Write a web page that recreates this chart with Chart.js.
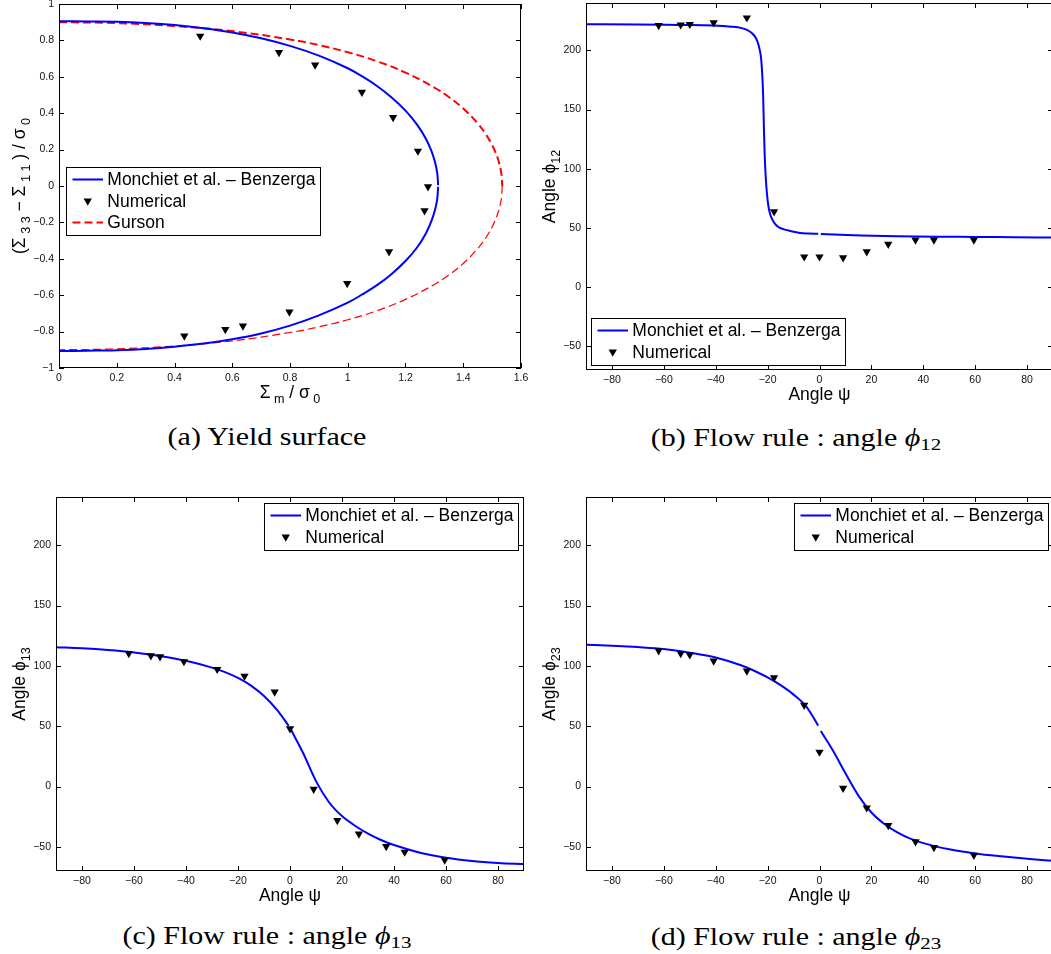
<!DOCTYPE html>
<html>
<head>
<meta charset="utf-8">
<title>Yield surface and flow rule</title>
<script src="https://cdn.jsdelivr.net/npm/chart.js@4.4.1/dist/chart.umd.min.js"></script>
<style>
  html, body { margin: 0; padding: 0; background: #fff; }
  body { position: relative; width: 1051px; height: 954px; overflow: hidden; }
  canvas { position: absolute; }
  .caption {
    position: absolute; white-space: nowrap; color: #000;
    font-family: 'Liberation Serif', 'DejaVu Serif', serif; font-size: 25px;
    transform: translate(-50%, -50%) scaleX(1.2);
  }
  .caption i { font-family: 'Liberation Serif', 'DejaVu Serif', serif; }
  .caption sub { font-size: 70%; vertical-align: -0.2em; line-height: 0; }
</style>
</head>
<body>
<canvas id="chart-a"></canvas>
<canvas id="chart-b"></canvas>
<canvas id="chart-c"></canvas>
<canvas id="chart-d"></canvas>
<div class="caption" style="left:267px;top:437px">(a) Yield surface</div>
<div class="caption" style="left:796px;top:438px">(b) Flow rule : angle <i>ϕ</i><sub>12</sub></div>
<div class="caption" style="left:267px;top:936px">(c) Flow rule : angle <i>ϕ</i><sub>13</sub></div>
<div class="caption" style="left:796px;top:937px">(d) Flow rule : angle <i>ϕ</i><sub>23</sub></div>
<script>
const FONT = "'Liberation Sans', Arial, 'DejaVu Sans', sans-serif";

// tick values
const yieldXTicks = [0, 0.2, 0.4, 0.6, 0.8, 1, 1.2, 1.4, 1.6];
const yieldYTicks = [-1, -0.8, -0.6, -0.4, -0.2, 0, 0.2, 0.4, 0.6, 0.8, 1];
const psiTicks = [-80, -60, -40, -20, 0, 20, 40, 60, 80];
const phiTicks = [-50, 0, 50, 100, 150, 200];

// (a) yield surface : Sigma_m / sigma_0 vs (Sigma_33 - Sigma_11) / sigma_0
const yieldNumX = [0.489, 0.762, 0.887, 1.049, 1.157, 1.243, 1.278, 1.266, 1.143, 0.998, 0.798, 0.637, 0.576, 0.434];
const yieldNumY = [0.824, 0.734, 0.665, 0.515, 0.377, 0.192, -0.004, -0.136, -0.361, -0.535, -0.692, -0.769, -0.788, -0.824];

const modelUpperX = [0, 0.1, 0.2, 0.3, 0.4, 0.5, 0.6, 0.7, 0.8, 0.9, 1.0, 1.05, 1.1, 1.15, 1.2, 1.24, 1.27, 1.29, 1.303, 1.31, 1.313];
const modelUpperY = [0.905, 0.904, 0.902, 0.895, 0.884, 0.867, 0.844, 0.812, 0.770, 0.716, 0.647, 0.602, 0.551, 0.489, 0.414, 0.337, 0.261, 0.192, 0.127, 0.070, 0.004];
const modelLowerX = [1.313, 1.31, 1.303, 1.29, 1.27, 1.24, 1.2, 1.15, 1.1, 1.05, 1.0, 0.9, 0.8, 0.7, 0.6, 0.5, 0.4, 0.3, 0.2, 0.1, 0];
const modelLowerY = [-0.004, -0.070, -0.127, -0.192, -0.262, -0.338, -0.412, -0.486, -0.546, -0.596, -0.641, -0.711, -0.767, -0.810, -0.842, -0.866, -0.883, -0.895, -0.902, -0.905, -0.907];

const gursonUpperX = [0, 0.2, 0.4, 0.6, 0.8, 0.9, 1.0, 1.1, 1.2, 1.3, 1.35, 1.4, 1.45, 1.48, 1.5, 1.51, 1.52, 1.525, 1.53, 1.533, 1.535];
const gursonUpperY = [0.9, 0.895, 0.879, 0.851, 0.805, 0.774, 0.735, 0.686, 0.623, 0.541, 0.489, 0.426, 0.344, 0.28, 0.225, 0.191, 0.15, 0.122, 0.087, 0.055, 0];
const gursonLowerX = [1.535, 1.533, 1.53, 1.525, 1.52, 1.51, 1.5, 1.48, 1.45, 1.4, 1.35, 1.3, 1.2, 1.1, 1.0, 0.9, 0.8, 0.6, 0.4, 0.2, 0];
const gursonLowerY = [0, -0.055, -0.087, -0.122, -0.15, -0.191, -0.225, -0.28, -0.344, -0.426, -0.489, -0.541, -0.623, -0.686, -0.735, -0.774, -0.805, -0.851, -0.879, -0.895, -0.9];

// (b)-(d) flow rule : angle psi
const psiNumerical = [-62, -53.5, -50, -40.8, -28, -17.5, -5.9, 0, 9.1, 18.2, 26.5, 37, 44.1, 59.5];
const phi12Numerical = [221, 221.6, 222, 223.3, 227.5, 63.8, 25.6, 25.6, 24.8, 30, 36.2, 39.9, 39.9, 39.9];
const phi13Numerical = [110.4, 108.4, 107.6, 103.6, 97.2, 91.6, 78.4, 47.9, -2.2, -28, -39.2, -49.6, -54.3, -60.8];
const phi23Numerical = [112.6, 110.4, 109.2, 104.2, 95.8, 90.2, 67.5, 28.6, -1.4, -17.6, -32.2, -45.7, -50.4, -56.9];

const phi12ModelPsi = [-90, -70, -54, -41, -34, -30, -28, -26.5, -25, -24, -23, -22.5, -22, -21.7, -21.4, -21.1, -20.7, -20.3, -19.8, -19.2, -18.5, -17.5, -16, -14, -11, -7.5, -4, -0.5, 0, 0.5, 8, 16, 30, 45, 60, 75, 90];
const phi12Model = [222, 221.9, 221.4, 221, 220, 218.8, 217.3, 215.3, 212, 208, 200, 193, 177, 160, 132, 110, 92, 80, 70, 63, 58.5, 54.5, 51, 49, 47.3, 45.8, 45.3, 45, null, 44.9, 44.2, 43.6, 43, 42.6, 42.4, 42.1, 41.9];

const phi13ModelPsi = [-90, -80, -70, -60, -50, -40, -30, -25, -20, -15, -10, -5, -0.5, 0, 0.5, 5, 10, 15, 20, 25, 30, 35, 40, 50, 60, 70, 80, 90];
const phi13Model = [115.5, 114.6, 113.2, 111.2, 108.3, 104.3, 98.6, 94.8, 90, 83.6, 75, 63.5, 50.3, null, 46.6, 28, 4.5, -13, -24.5, -32.5, -39, -44.3, -48.5, -54.8, -59, -61.7, -63.3, -64.3];

const phi23ModelPsi = [-90, -80, -70, -60, -50, -40, -30, -25, -20, -15, -10, -5, -0.5, 0, 0.5, 5, 10, 15, 20, 25, 30, 35, 40, 50, 60, 70, 80, 90];
const phi23Model = [117.6, 116.8, 115.6, 114, 111, 107, 100.3, 95.8, 90.4, 84, 76.2, 66, 50.5, null, 46, 30.5, 11, -7.5, -21.5, -31, -38, -43.2, -46.9, -52, -55.4, -57.8, -59.8, -61.6];

const pairs = (xs, ys) => xs.map((x, i) => ({ x, y: ys[i] }));
const fmt = v => String(Math.round(v * 10) / 10).replace('-', '\u2212');

const BLUE = '#0000ff';
const RED = '#ff0000';

function modelSet(data, extra) {
  return Object.assign({
    label: 'Monchiet et al. \u2013 Benzerga', data, showLine: true,
    borderColor: BLUE, backgroundColor: BLUE, borderWidth: 2, pointRadius: 0,
    cubicInterpolationMode: 'monotone', spanGaps: false, order: 1
  }, extra);
}
function numericalSet(data) {
  return {
    label: 'Numerical', data, showLine: false,
    pointStyle: 'triangle', rotation: 180, pointRadius: 4.8, pointBorderWidth: 0,
    backgroundColor: '#000', borderColor: '#000', order: 0
  };
}

// inward ticks on the four sides and the closed box
const matlabAxes = {
  id: 'matlabAxes',
  beforeDatasetsDraw(chart) {
    const { ctx, chartArea: a, scales: { x, y } } = chart;
    const len = 5;
    ctx.save();
    ctx.strokeStyle = '#000';
    ctx.lineWidth = 1;
    ctx.beginPath();
    x.ticks.forEach(t => {
      const p = Math.round(x.getPixelForValue(t.value)) + 0.5;
      ctx.moveTo(p, a.bottom); ctx.lineTo(p, a.bottom - len);
      ctx.moveTo(p, a.top); ctx.lineTo(p, a.top + len);
    });
    y.ticks.forEach(t => {
      const p = Math.round(y.getPixelForValue(t.value)) + 0.5;
      ctx.moveTo(a.left, p); ctx.lineTo(a.left + len, p);
      ctx.moveTo(a.right, p); ctx.lineTo(a.right - len, p);
    });
    ctx.stroke();
    ctx.restore();
  },
  afterDatasetsDraw(chart) {
    const { ctx, chartArea: a } = chart;
    ctx.save();
    ctx.strokeStyle = '#000';
    ctx.lineWidth = 1;
    ctx.strokeRect(a.left + 0.5, a.top + 0.5, a.right - a.left - 1, a.bottom - a.top - 1);
    ctx.restore();
  }
};

// text made of normal and subscript runs, centred on (0,0)
function drawRuns(ctx, runs, size) {
  const parts = runs.map(([text, sub]) => {
    const fs = sub ? size * 0.72 : size;
    ctx.font = `${fs}px ${FONT}`;
    return { text, sub, fs, w: ctx.measureText(text).width };
  });
  let cx = -parts.reduce((s, p) => s + p.w, 0) / 2;
  const base = size * 0.36;
  parts.forEach(p => {
    ctx.font = `${p.fs}px ${FONT}`;
    ctx.fillText(p.text, cx, p.sub ? base + size * 0.28 : base);
    cx += p.w;
  });
}

const axisTitles = {
  id: 'axisTitles',
  afterDraw(chart, args, opts) {
    const { ctx, chartArea: a } = chart;
    ctx.save();
    ctx.fillStyle = '#000';
    ctx.textAlign = 'left';
    ctx.textBaseline = 'alphabetic';
    ctx.translate((a.left + a.right) / 2, a.bottom + opts.xGap);
    drawRuns(ctx, opts.x, opts.size);
    ctx.restore();
    ctx.save();
    ctx.fillStyle = '#000';
    ctx.textAlign = 'left';
    ctx.textBaseline = 'alphabetic';
    ctx.translate(a.left - opts.yGap, (a.top + a.bottom) / 2);
    ctx.rotate(-Math.PI / 2);
    drawRuns(ctx, opts.y, opts.size);
    ctx.restore();
  }
};

// boxed legend inside the axes, built from the dataset labels and styles
const matlabLegend = {
  id: 'matlabLegend',
  afterDraw(chart, args, opts) {
    const { ctx, chartArea: a } = chart;
    const items = chart.data.datasets.filter(d => d.label && !d.legendSkip);
    const size = 17.5, textX = 41.3, padTop = 12.5, rowH = 21.5;
    ctx.save();
    ctx.font = `${size}px ${FONT}`;
    const textW = Math.max(...items.map(d => ctx.measureText(d.label).width));
    const w = Math.round(textX + textW + 4.5);
    const h = Math.round(padTop * 2 + (items.length - 1) * rowH);
    const bx = Math.round(opts.left !== undefined ? a.left + opts.left : a.right - opts.right - w);
    const by = Math.round(opts.top !== undefined ? a.top + opts.top : a.bottom - opts.bottom - h);
    ctx.fillStyle = '#fff';
    ctx.fillRect(bx, by, w, h);
    ctx.strokeStyle = '#000';
    ctx.lineWidth = 1;
    ctx.strokeRect(bx + 0.5, by + 0.5, w, h);
    items.forEach((d, i) => {
      const cy = by + padTop + i * rowH;
      const x0 = bx + 6.5, x1 = bx + 37;
      if (d.showLine) {
        ctx.strokeStyle = d.borderColor;
        ctx.lineWidth = d.borderWidth;
        ctx.setLineDash(d.borderDash || []);
        ctx.beginPath();
        ctx.moveTo(x0, cy); ctx.lineTo(x1, cy);
        ctx.stroke();
        ctx.setLineDash([]);
      } else {
        ctx.fillStyle = d.backgroundColor;
        Chart.helpers.drawPoint(ctx, {
          pointStyle: d.pointStyle, rotation: d.rotation, radius: d.pointRadius, borderWidth: 0
        }, (x0 + x1) / 2, cy);
      }
      ctx.fillStyle = '#000';
      ctx.textAlign = 'left';
      ctx.textBaseline = 'middle';
      ctx.fillText(d.label, bx + textX, cy + 1);
    });
    ctx.restore();
  }
};

function makeChart(id, geo, cfg) {
  const M = { l: 62, t: 16, r: 18, b: 45 };
  const canvas = document.getElementById(id);
  canvas.width = geo.r - geo.l + M.l + M.r;
  canvas.height = geo.b - geo.t + M.t + M.b;
  canvas.style.left = (geo.l - M.l) + 'px';
  canvas.style.top = (geo.t - M.t) + 'px';
  const tickFont = { family: FONT, size: 10.5 };
  return new Chart(canvas, {
    type: 'scatter',
    data: { datasets: cfg.datasets },
    options: {
      responsive: false,
      animation: false,
      devicePixelRatio: 1,
      events: [],
      layout: { padding: { left: 0, top: M.t, right: M.r, bottom: 0 } },
      plugins: {
        legend: { display: false },
        tooltip: { enabled: false },
        matlabLegend: cfg.legend,
        axisTitles: cfg.titles
      },
      scales: {
        x: {
          type: 'linear', min: cfg.xRange[0], max: cfg.xRange[1],
          grid: { display: false, drawTicks: false }, border: { display: false },
          ticks: { font: tickFont, color: '#111', padding: 4, maxRotation: 0, callback: fmt },
          afterBuildTicks: s => { s.ticks = cfg.xTicks.map(value => ({ value })); },
          afterFit: s => { s.height = M.b; }
        },
        y: {
          type: 'linear', min: cfg.yRange[0], max: cfg.yRange[1],
          grid: { display: false, drawTicks: false }, border: { display: false },
          ticks: { font: tickFont, color: '#111', padding: 5, callback: fmt },
          afterBuildTicks: s => { s.ticks = cfg.yTicks.map(value => ({ value })); },
          afterFit: s => { s.width = M.l; }
        }
      }
    },
    plugins: [matlabAxes, axisTitles, matlabLegend]
  });
}

const psiTitle = [['Angle \u03c8', 0]];

makeChart('chart-a', { l: 59, t: 4, r: 521, b: 368 }, {
  xRange: [0, 1.6], yRange: [-1, 1], xTicks: yieldXTicks, yTicks: yieldYTicks,
  datasets: [
    modelSet([...pairs(modelUpperX, modelUpperY), { x: 1.313, y: null }, ...pairs(modelLowerX, modelLowerY)],
      { cubicInterpolationMode: 'default', tension: 0.4 }),
    numericalSet(pairs(yieldNumX, yieldNumY)),
    {
      label: 'Gurson', data: pairs(gursonUpperX, gursonUpperY), showLine: true,
      borderColor: RED, backgroundColor: RED, borderWidth: 2, borderDash: [8, 4],
      pointRadius: 0, tension: 0.4, order: 2
    },
    {
      label: 'Gurson', legendSkip: true, data: pairs(gursonLowerX, gursonLowerY), showLine: true,
      borderColor: RED, backgroundColor: RED, borderWidth: 1.2, borderDash: [8, 4],
      pointRadius: 0, tension: 0.4, order: 2
    }
  ],
  legend: { left: 7, top: 163 },
  titles: {
    size: 17.5, xGap: 24, yGap: 40,
    x: [['\u03a3', 0], [' m', 1], [' / ', 0], ['\u03c3', 0], [' 0', 1]],
    y: [['(', 0], ['\u03a3', 0], [' 3 3', 1], [' \u2212 ', 0], ['\u03a3', 0], [' 1 1', 1], [' ) / ', 0], ['\u03c3', 0], [' 0', 1]]
  }
});

makeChart('chart-b', { l: 586, t: 3, r: 1053, b: 370 }, {
  xRange: [-90, 90], yRange: [-70, 240], xTicks: psiTicks, yTicks: phiTicks,
  datasets: [
    modelSet(pairs(phi12ModelPsi, phi12Model)),
    numericalSet(pairs(psiNumerical, phi12Numerical))
  ],
  legend: { left: 5, bottom: 5 },
  titles: { size: 17.5, xGap: 24, yGap: 37, x: psiTitle, y: [['Angle \u03d5', 0], ['12', 1]] }
});

makeChart('chart-c', { l: 56, t: 497, r: 524, b: 871 }, {
  xRange: [-90, 90], yRange: [-70, 240], xTicks: psiTicks, yTicks: phiTicks,
  datasets: [
    modelSet(pairs(phi13ModelPsi, phi13Model)),
    numericalSet(pairs(psiNumerical, phi13Numerical))
  ],
  legend: { right: 6, top: 6 },
  titles: { size: 17.5, xGap: 24, yGap: 37, x: psiTitle, y: [['Angle \u03d5', 0], ['13', 1]] }
});

makeChart('chart-d', { l: 586, t: 497, r: 1053, b: 871 }, {
  xRange: [-90, 90], yRange: [-70, 240], xTicks: psiTicks, yTicks: phiTicks,
  datasets: [
    modelSet(pairs(phi23ModelPsi, phi23Model)),
    numericalSet(pairs(psiNumerical, phi23Numerical))
  ],
  legend: { right: 5, top: 6 },
  titles: { size: 17.5, xGap: 24, yGap: 37, x: psiTitle, y: [['Angle \u03d5', 0], ['23', 1]] }
});
</script>
</body>
</html>
